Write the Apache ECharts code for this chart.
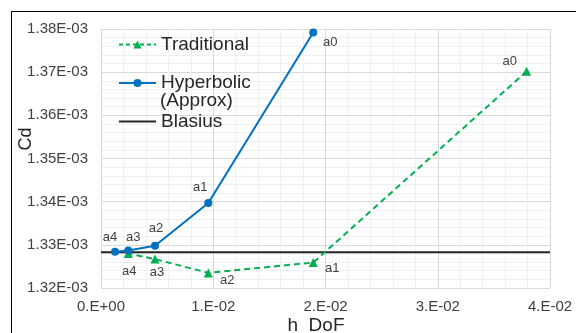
<!DOCTYPE html>
<html style="height: 333px;width: 576px;">
<head>
  <meta charset="UTF-8">
  <title>Cd vs h DoF</title>
  <script src="https://cdn.jsdelivr.net/npm/echarts@6/dist/echarts.min.js"></script>
</head>
<body style="margin: 0;height: 100%;width: 100%;background: #fff;overflow: hidden;">
  <div style="position: absolute;left: 11px;top: 11px;width: 700px;height: 500px;border: 1.5px solid #000;"></div>
  <div id="main" style="position: absolute;left: 0;top: 0;width: 576px;height: 333px;"></div>
<script>
// Cd in units of 1E-03
var tradLabels = ['a0', 'a1', 'a2', 'a3', 'a4'];
var tradH  = [0.03792, 0.01891, 0.00956, 0.00481, 0.00243];
var tradCd = [1.3702, 1.3259, 1.3235, 1.3267, 1.3280];

var hypLabels = ['a0', 'a1', 'a2', 'a3', 'a4'];
var hypH  = [0.01891, 0.00956, 0.00481, 0.00243, 0.00125];
var hypCd = [1.3792, 1.3397, 1.3298, 1.3287, 1.3284];

var blasiusH  = [0, 0.04];
var blasiusCd = [1.32826, 1.32826];

// label offsets for each point (px)
var tradOffsets = [[-17, -10], [19, 6], [19, 8], [2, 13], [1, 18]];
var hypOffsets  = [[17, 10], [-8, -16], [1, -17], [5, -13], [-5, -14]];

var txt = '#404040';
var font = 'Liberation Sans, Arial, sans-serif';

function pts(xs, ys, names, offs) {
  var out = [];
  for (var i = 0; i < xs.length; ++i) {
    var p = { value: [xs[i], ys[i]] };
    if (names) {
      p.label = { show: true, formatter: names[i], position: 'inside', offset: offs[i] };
    }
    out.push(p);
  }
  return out;
}

var chart = echarts.init(document.getElementById('main'));
chart.setOption({
  animation: false,
  grid: { left: 101, top: 29, right: 26, bottom: 45, outerBoundsMode: 'none', containLabel: false },
  legend: {
    orient: 'vertical',
    left: 118,
    top: 35,
    padding: 0,
    itemWidth: 37,
    itemHeight: 10,
    itemGap: 19.5,
    textStyle: { fontSize: 19, lineHeight: 19, color: '#262626', fontFamily: font },
    data: [
      { name: 'Traditional', lineStyle: { type: [4, 3] } },
      { name: 'Hyperbolic' },
      { name: 'Blasius', itemStyle: { opacity: 0 } }
    ]
  },
  graphic: [
    {
      type: 'text',
      left: 160,
      top: 91,
      z: 100,
      style: { text: '(Approx)', fontSize: 19, fontFamily: font, fill: '#262626' }
    }
  ],
  xAxis: {
    type: 'value',
    min: 0, max: 0.04, interval: 0.01,
    name: 'h  DoF',
    nameLocation: 'middle',
    nameGap: 28,
    nameMoveOverlap: false,
    nameTextStyle: { fontSize: 19, color: '#262626', fontFamily: font, verticalAlign: 'top', padding: [0, 19, 0, 0] },
    axisLine: { show: false },
    axisTick: { show: false },
    axisLabel: {
      fontSize: 15, color: txt, fontFamily: font, margin: 11,
      formatter: function (v) { return v === 0 ? '0.E+00' : Math.round(v * 100) + '.E-02'; }
    },
    splitLine: { show: true, lineStyle: { color: '#d9d9d9', width: 1 } },
    minorTick: { show: false, splitNumber: 5 },
    minorSplitLine: { show: true, lineStyle: { color: '#f0f0f0', width: 1 } }
  },
  yAxis: {
    type: 'value',
    min: 1.32, max: 1.38, interval: 0.01,
    name: 'Cd',
    nameLocation: 'middle',
    nameGap: 66,
    nameMoveOverlap: false,
    nameTextStyle: { fontSize: 18, color: '#262626', fontFamily: font, padding: [0, 0, 0, 39] },
    axisLine: { show: false },
    axisTick: { show: false },
    axisLabel: {
      fontSize: 15, color: txt, fontFamily: font, margin: 13,
      formatter: function (v) { return v.toFixed(2) + 'E-03'; }
    },
    splitLine: { show: true, lineStyle: { color: '#d9d9d9', width: 1 } },
    minorTick: { show: false, splitNumber: 5 },
    minorSplitLine: { show: true, lineStyle: { color: '#f0f0f0', width: 1 } }
  },
  series: [
    {
      name: 'Traditional',
      type: 'line',
      data: pts(tradH, tradCd, tradLabels, tradOffsets),
      symbol: 'triangle',
      symbolSize: 9,
      itemStyle: { color: '#00b050' },
      lineStyle: { color: '#00b050', width: 2, type: [6, 4] },
      label: { fontSize: 13, color: txt, fontFamily: font },
      z: 3
    },
    {
      name: 'Hyperbolic',
      type: 'line',
      data: pts(hypH, hypCd, hypLabels, hypOffsets),
      symbol: 'circle',
      symbolSize: 8,
      itemStyle: { color: '#0070c0' },
      lineStyle: { color: '#0070c0', width: 2 },
      label: { fontSize: 13, color: txt, fontFamily: font },
      z: 4
    },
    {
      name: 'Blasius',
      type: 'line',
      data: pts(blasiusH, blasiusCd),
      symbol: 'none',
      itemStyle: { color: '#262626' },
      lineStyle: { color: '#262626', width: 2 },
      z: 2
    }
  ]
});
</script>
</body>
</html>
